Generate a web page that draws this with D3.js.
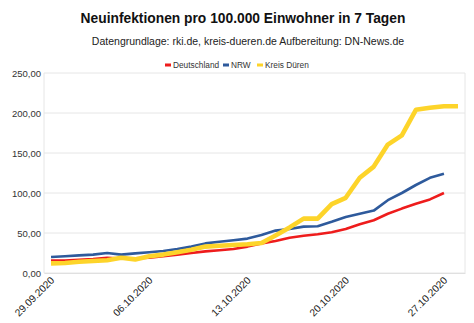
<!DOCTYPE html>
<html>
<head>
<meta charset="utf-8">
<script src="https://cdn.jsdelivr.net/npm/d3@7"></script>
<style>
  body { margin: 0; background: #fff; }
  text { font-family: "Liberation Sans", Arial, sans-serif; }
</style>
</head>
<body>
<svg id="chart" width="474" height="323"></svg>
<script>
// dates 29.09.2020 .. 28.10.2020
var dates = ['29.09.2020', '30.09.2020', '01.10.2020', '02.10.2020', '03.10.2020', '04.10.2020', '05.10.2020',
  '06.10.2020', '07.10.2020', '08.10.2020', '09.10.2020', '10.10.2020', '11.10.2020', '12.10.2020',
  '13.10.2020', '14.10.2020', '15.10.2020', '16.10.2020', '17.10.2020', '18.10.2020', '19.10.2020',
  '20.10.2020', '21.10.2020', '22.10.2020', '23.10.2020', '24.10.2020', '25.10.2020', '26.10.2020',
  '27.10.2020', '28.10.2020'];

var tickLabels = ['29.09.2020', '06.10.2020', '13.10.2020', '20.10.2020', '27.10.2020'];
var yTicks = [0, 50, 100, 150, 200, 250];

var deutschland = [15.5, 15.5, 16.5, 17.5, 19, 18, 18.5, 19, 21, 23, 25, 27, 28.5, 30, 33,
  37, 40, 44, 46.5, 48.5, 51, 55, 61, 66, 74, 80.5, 86.5, 92, 100];
var nrw = [20, 21, 22, 23, 25, 23, 24.5, 26, 27.5, 30, 33, 37, 39, 41, 43,
  47.5, 53, 55, 58, 58.5, 64, 70, 74, 78, 91, 100, 110, 119, 124];
var kreisDueren = [12, 12.5, 14, 15, 16, 19, 17, 21, 23, 26, 29, 33, 34, 35, 36,
  37.5, 47, 57, 68, 68, 86, 94, 119, 133, 160.5, 172, 204, 206.5, 208.5, 208.5];

var series = [
  { name: 'Deutschland', values: deutschland, color: '#ee1c1c', width: 2.6 },
  { name: 'NRW', values: nrw, color: '#2e5a9c', width: 2.6 },
  { name: 'Kreis Düren', values: kreisDueren, color: '#fdd42a', width: 4.6 }
];

var svg = d3.select('#chart');
var margin = { left: 44, right: 9, top: 73, bottom: 50 };
var width = 474 - margin.left - margin.right,
  height = 323 - margin.top - margin.bottom;

var x = d3.scaleBand().domain(dates).range([margin.left, margin.left + width]);
var y = d3.scaleLinear().domain([0, 250]).range([margin.top + height, margin.top]);

// titles
svg.append('text')
  .attr('x', 243).attr('y', 23)
  .attr('text-anchor', 'middle')
  .style('font-size', '13.8px').style('font-weight', 'bold').style('fill', '#111')
  .text('Neuinfektionen pro 100.000 Einwohner in 7 Tagen');

svg.append('text')
  .attr('x', 248).attr('y', 45)
  .attr('text-anchor', 'middle')
  .style('font-size', '10.5px').style('fill', '#222')
  .text('Datengrundlage: rki.de, kreis-dueren.de Aufbereitung: DN-News.de');

// legend
var legendPos = [165, 223, 257];
var legend = svg.append('g').attr('class', 'legend');
series.forEach((s, i) => {
  var g = legend.append('g').attr('transform', `translate(${legendPos[i]},65)`);
  g.append('rect').attr('x', 0).attr('y', -1.5).attr('width', 6).attr('height', 3).style('fill', s.color);
  g.append('text').attr('x', 8).attr('y', 3)
    .style('font-size', '8.3px').style('fill', '#333')
    .text(s.name);
});

// grid
svg.append('g').selectAll('line.grid')
  .data(yTicks)
  .enter().append('line')
  .attr('class', 'grid')
  .attr('x1', margin.left).attr('x2', margin.left + width)
  .attr('y1', d => y(d)).attr('y2', d => y(d))
  .style('stroke', '#e6e6e6').style('stroke-width', 1);

// frame
svg.append('line')
  .attr('x1', margin.left).attr('x2', margin.left)
  .attr('y1', margin.top).attr('y2', margin.top + height)
  .style('stroke', '#e6e6e6');
svg.append('line')
  .attr('x1', margin.left + width).attr('x2', margin.left + width)
  .attr('y1', margin.top).attr('y2', margin.top + height)
  .style('stroke', '#e6e6e6');

// y axis
var yAxis = d3.axisLeft(y).tickValues(yTicks).tickSize(0).tickPadding(3)
  .tickFormat(d => d3.format('.2f')(d).replace('.', ','));
var gy = svg.append('g').attr('transform', `translate(${margin.left},0)`).call(yAxis);
gy.select('.domain').remove();
gy.selectAll('text').style('font-size', '9.5px').style('fill', '#333')
  .style('font-family', '"Liberation Sans", Arial, sans-serif');

// x axis
var xAxis = d3.axisBottom(x).tickValues(tickLabels).tickSize(0).tickPadding(0);
var gx = svg.append('g').attr('transform', `translate(0,${margin.top + height})`).call(xAxis);
gx.select('.domain').style('stroke', '#e0e0e0');
gx.selectAll('text')
  .style('font-size', '10.2px').style('fill', '#222')
  .style('font-family', '"Liberation Sans", Arial, sans-serif')
  .attr('text-anchor', 'end')
  .attr('dx', '0').attr('dy', '0')
  .attr('transform', 'translate(4,8) rotate(-45)');

// lines
var line = d3.line()
  .x((d, i) => x(dates[i]) + x.bandwidth() / 2)
  .y(d => y(d));

svg.append('g').selectAll('path.series')
  .data(series)
  .enter().append('path')
  .attr('class', 'series')
  .attr('d', d => line(d.values))
  .style('fill', 'none')
  .style('stroke', d => d.color)
  .style('stroke-width', d => d.width)
  .style('stroke-linejoin', 'round');
</script>
</body>
</html>
